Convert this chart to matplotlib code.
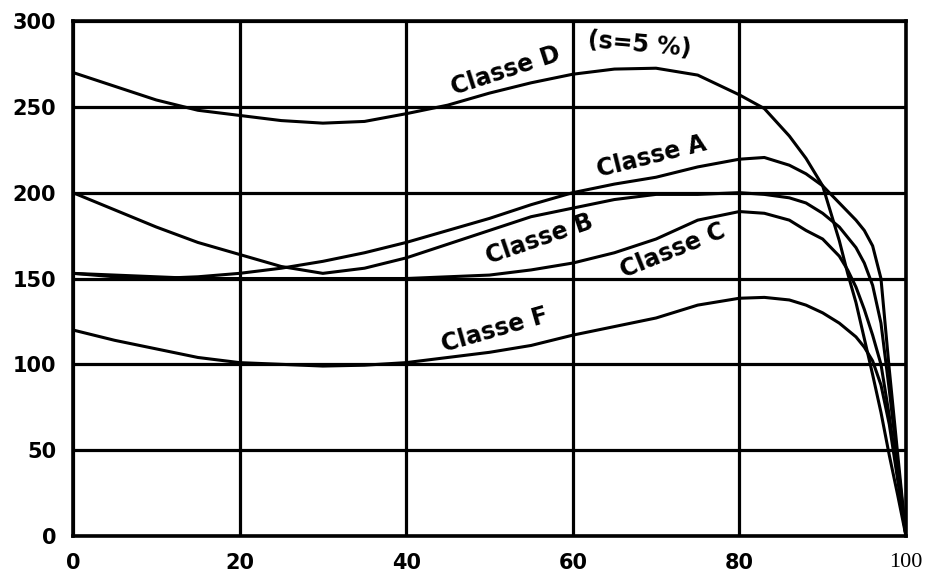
import matplotlib
matplotlib.use("Agg")
import matplotlib.pyplot as plt

# valeurs
x_pts = [0, 5, 10, 15, 20, 25, 30, 35, 40, 45, 50, 55, 60, 65, 70, 75,
         80, 83, 86, 88, 90, 92, 93, 94, 95, 96, 97, 98, 99, 100]

classe_d = [270, 262, 254, 248, 245, 242, 240.5, 241.5, 246, 251, 258, 264, 269, 272, 272.5, 268.5,
            257, 249, 233, 220, 204, 172, 153, 136, 115, 94, 72, 47, 24, 0]
classe_a = [153, 151, 150, 151, 153, 156, 160, 165, 171, 178, 185, 193, 200, 205, 209, 215,
            219.5, 220.5, 216, 211, 204, 194, 189, 184, 178, 169, 150, 97, 48, 0]
classe_b = [200, 190, 180, 171, 164, 157, 153, 156, 162, 170, 178, 186, 191, 196, 199, 199,
            200, 199, 197, 194, 188, 180, 174, 168, 159, 146, 124, 85, 43, 0]
classe_c = [153, 152, 151, 150, 150, 150, 150, 150, 150, 151, 152, 155, 159, 165, 173, 184,
            189, 188, 184, 178, 173, 163, 155, 145, 132, 117, 100, 70, 35, 0]
classe_f = [120, 114, 109, 104, 101, 100, 99, 99.5, 101, 104, 107, 111, 117, 122, 127, 134.5,
            138.5, 139, 137.5, 134.5, 130, 124, 120, 116, 110, 102, 88, 65, 33, 0]

x_ticks = [0, 20, 40, 60, 80, 100]
y_ticks = [0, 50, 100, 150, 200, 250, 300]

fig = plt.figure(figsize=(9.27, 5.74), dpi=100)
ax = fig.add_axes([0.0787, 0.0662, 0.8986, 0.8972])

for serie in [classe_d, classe_a, classe_b, classe_c, classe_f]:
    ax.plot(x_pts, serie, color="black", lw=2.2, solid_joinstyle="round", solid_capstyle="round")

ax.set_xlim(0, 100)
ax.set_ylim(0, 300)
ax.set_xticks(x_ticks)
ax.set_yticks(y_ticks)
ax.grid(True, color="black", lw=2.3)
ax.set_axisbelow(True)
for s in ax.spines.values():
    s.set_linewidth(2.6)
ax.tick_params(length=0, pad=12, labelsize=15)
for lab in ax.get_xticklabels() + ax.get_yticklabels():
    lab.set_fontweight("bold")
xl = ax.get_xticklabels()
xl[-1].set_fontweight("normal")
xl[-1].set_family("Liberation Serif")
xl[-1].set_fontsize(16)

txt = dict(fontsize=17, fontweight="bold", ha="center", va="center", rotation_mode="anchor")
ax.text(52, 271, "Classe D", rotation=18, **txt)
ax.text(68, 286, "(s=5 %)", rotation=-5, **txt)
ax.text(69.5, 221, "Classe A", rotation=14, **txt)
ax.text(56, 173, "Classe B", rotation=19, **txt)
ax.text(72, 166, "Classe C", rotation=22, **txt)
ax.text(50.7, 120, "Classe F", rotation=16, **txt)

fig.savefig("out.png", dpi=100)
